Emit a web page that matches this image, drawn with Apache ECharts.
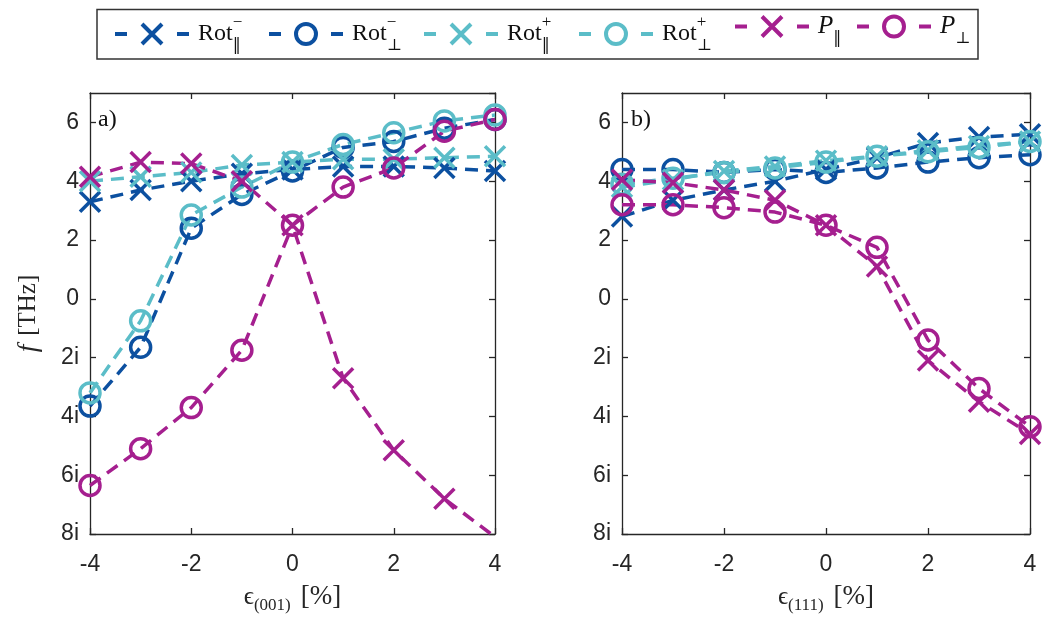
<!DOCTYPE html>
<html><head><meta charset="utf-8">
<script src="https://cdn.jsdelivr.net/npm/echarts@6/dist/echarts.min.js"></script>
<style>html,body{margin:0;padding:0;background:#fff}#c{width:1044px;height:621px}</style>
</head><body><div id="c"></div>
<script>
// ---- data ----
const strain = [-4, -3, -2, -1, 0, 1, 2, 3, 4];
const yTickValues = [-8, -6, -4, -2, 0, 2, 4, 6];
const yTickLabels = ['8i', '6i', '4i', '2i', '0', '2', '4', '6'];

const seriesNames = ['Rot-par', 'Rot-perp', 'Rot+par', 'Rot+perp', 'Ppar', 'Pperp'];
const legendTexts = [
  '{b|Rot}{sup|\u2212}{sub|\u2016}',
  '{b|Rot}{sup|\u2212}{sub|\u22A5}',
  '{b|Rot}{sup|+}{sub|\u2016}',
  '{b|Rot}{sup|+}{sub|\u22A5}',
  '{i|P}{sub|\u2016}',
  '{i|P}{sub|\u22A5}'
];

// panel a) strain along (001)
const a_rotm_par  = [3.3, 3.7, 4.0, 4.25, 4.4, 4.5, 4.5, 4.45, 4.35];
const a_rotm_perp = [-3.65, -1.65, 2.4, 3.55, 4.35, 5.15, 5.35, 5.8, 6.1];
const a_rotp_par  = [4.0, 4.15, 4.3, 4.55, 4.65, 4.75, 4.75, 4.8, 4.85];
const a_rotp_perp = [-3.2, -0.75, 2.85, 3.8, 4.65, 5.25, 5.65, 6.05, 6.25];
const a_p_par     = [4.15, 4.65, 4.6, 4.0, 2.5, -2.7, -5.15, -6.8, -8.1];
const a_p_perp    = [-6.35, -5.1, -3.7, -1.75, 2.5, 3.8, 4.45, 5.7, 6.1];

// panel b) strain along (111)
const b_rotm_par  = [2.8, 3.35, 3.7, 4.0, 4.4, 4.8, 5.3, 5.5, 5.6];
const b_rotm_perp = [4.4, 4.4, 4.3, 4.4, 4.3, 4.45, 4.65, 4.8, 4.9];
const b_rotp_par  = [3.8, 4.05, 4.35, 4.5, 4.7, 4.85, 5.05, 5.2, 5.35];
const b_rotp_perp = [3.9, 4.1, 4.3, 4.45, 4.65, 4.85, 5.0, 5.15, 5.35];
const b_p_par     = [4.05, 3.95, 3.7, 3.35, 2.5, 1.1, -2.1, -3.5, -4.6];
const b_p_perp    = [3.2, 3.2, 3.1, 2.95, 2.5, 1.75, -1.4, -3.05, -4.35];

// ---- styling ----
const C_DB = '#0c50a0', C_CY = '#5bbdc8', C_MG = '#a51f8f';
const colors = [C_DB, C_DB, C_CY, C_CY, C_MG, C_MG];
const XSYM = 'path://M0,0L10,10M10,0L0,10';
const symbols = [XSYM, 'circle', XSYM, 'circle', XSYM, 'circle'];
const AX = '#262626';
const SANS = '"Liberation Sans", Arial, sans-serif';
const SERIF = '"Liberation Serif", "DejaVu Serif", serif';
const SYMF = '"DejaVu Serif", serif';

const tickMap = {};
yTickValues.forEach((v, i) => { tickMap[v] = yTickLabels[i]; });

function mk(name, idx, vals, axisIdx) {
  return {
    name: name, type: 'line',
    xAxisIndex: axisIdx, yAxisIndex: axisIdx,
    data: strain.map((x, i) => [x, vals[i]]),
    symbol: symbols[idx], symbolSize: 20,
    lineStyle: { color: colors[idx], width: 3.5, type: [13, 8] },
    itemStyle: { color: 'none', borderColor: colors[idx], borderWidth: 3.5 },
    emphasis: { disabled: true },
    animation: false,
    clip: true
  };
}

const aVals = [a_rotm_par, a_rotm_perp, a_rotp_par, a_rotp_perp, a_p_par, a_p_perp];
const bVals = [b_rotm_par, b_rotm_perp, b_rotp_par, b_rotp_perp, b_p_par, b_p_perp];
const series = [];
aVals.forEach((v, i) => series.push(mk(seriesNames[i], i, v, 0)));
bVals.forEach((v, i) => series.push(mk(seriesNames[i], i, v, 2)));

function xAx(grid, pos, name) {
  const o = {
    type: 'value', gridIndex: grid, position: pos, min: -4, max: 4, interval: 2,
    axisLine: { show: true, onZero: false, lineStyle: { color: AX, width: 1.3 } },
    axisTick: { show: true, inside: true, length: 6, lineStyle: { color: AX, width: 1.3 } },
    splitLine: { show: false },
    axisLabel: { show: pos === 'bottom', color: AX, fontFamily: SANS, fontSize: 23, margin: 19 }
  };
  if (name) {
    o.name = name; o.nameLocation = 'middle'; o.nameGap = 46;
    o.nameTextStyle = {
      color: AX,
      rich: {
        e: { fontFamily: SERIF, fontSize: 25, lineHeight: 34, verticalAlign: 'middle', color: AX },
        s: { fontFamily: SERIF, fontSize: 17, lineHeight: 17, verticalAlign: 'bottom', color: AX },
        g: { fontSize: 10, width: 10, lineHeight: 34, verticalAlign: 'middle' },
        b: { fontFamily: SERIF, fontSize: 27, lineHeight: 34, verticalAlign: 'middle', color: AX }
      }
    };
  }
  return o;
}
function yAx(grid, pos, withName) {
  const o = {
    type: 'value', gridIndex: grid, position: pos, min: -8, max: 7, interval: 2,
    axisLine: { show: true, onZero: false, lineStyle: { color: AX, width: 1.3 } },
    axisTick: { show: true, inside: true, length: 6, lineStyle: { color: AX, width: 1.3 } },
    splitLine: { show: false },
    axisLabel: {
      show: pos === 'left', color: AX, fontFamily: SANS, fontSize: 23, margin: 11,
      showMaxLabel: false,
      formatter: v => (tickMap[v] !== undefined ? tickMap[v] : '')
    }
  };
  if (withName) {
    o.name = '{f|f}{g| }{b|[THz]}'; o.nameLocation = 'middle'; o.nameGap = 48; o.nameRotate = 90;
    o.nameTextStyle = {
      rich: {
        f: { fontFamily: SERIF, fontStyle: 'italic', fontSize: 27, color: AX },
        g: { fontFamily: SERIF, fontSize: 25, width: 9, color: AX },
        b: { fontFamily: SERIF, fontSize: 25, color: AX }
      }
    };
  }
  return o;
}

const legendLefts = [113, 267, 422, 577, 733, 855];
const legendRich = {
  b: { fontFamily: SERIF, fontSize: 24, lineHeight: 40, verticalAlign: 'middle', color: '#111', padding: [0, 0, 0, 4] },
  i: { fontFamily: SERIF, fontStyle: 'italic', fontSize: 25, lineHeight: 40, verticalAlign: 'middle', color: '#111', padding: [0, 0, 0, 4] },
  sup: { fontFamily: SERIF, fontSize: 17, lineHeight: 18, verticalAlign: 'top', color: '#111', width: 0.1 },
  sub: { fontFamily: SYMF, fontSize: 16, lineHeight: 19, verticalAlign: 'bottom', color: '#111' }
};
const legends = seriesNames.map((n, i) => ({
  data: [n], left: legendLefts[i], top: 14, padding: 0, orient: 'horizontal',
  itemWidth: 74, itemHeight: 25, selectedMode: false,
  lineStyle: { type: [12, 50], width: 4 },
  itemStyle: { borderWidth: 4 },
  formatter: () => legendTexts[i],
  textStyle: { rich: legendRich }
}));

const chart = echarts.init(document.getElementById('c'), null, { renderer: 'canvas' });
chart.setOption({
  animation: false,
  backgroundColor: '#fff',
  grid: [
    { left: 90, top: 93, width: 405, height: 441 },
    { left: 622, top: 93, width: 408, height: 441 }
  ],
  xAxis: [
    xAx(0, 'bottom', '{e|\u03F5}{s|(001)}{g| }{b|[%]}'), xAx(0, 'top'),
    xAx(1, 'bottom', '{e|\u03F5}{s|(111)}{g| }{b|[%]}'), xAx(1, 'top')
  ],
  yAxis: [yAx(0, 'left', true), yAx(0, 'right'), yAx(1, 'left'), yAx(1, 'right')],
  legend: legends,
  graphic: [
    { type: 'rect', shape: { x: 97, y: 9.5, width: 881, height: 49.5 },
      style: { fill: 'none', stroke: '#333', lineWidth: 1.5 }, z: 10 },
    { type: 'text', left: 98, top: 108, style: { text: 'a)', font: '24px ' + SERIF, fill: '#111' }, z: 10 },
    { type: 'text', left: 631, top: 108, style: { text: 'b)', font: '24px ' + SERIF, fill: '#111' }, z: 10 }
  ],
  series: series
});
</script></body></html>
